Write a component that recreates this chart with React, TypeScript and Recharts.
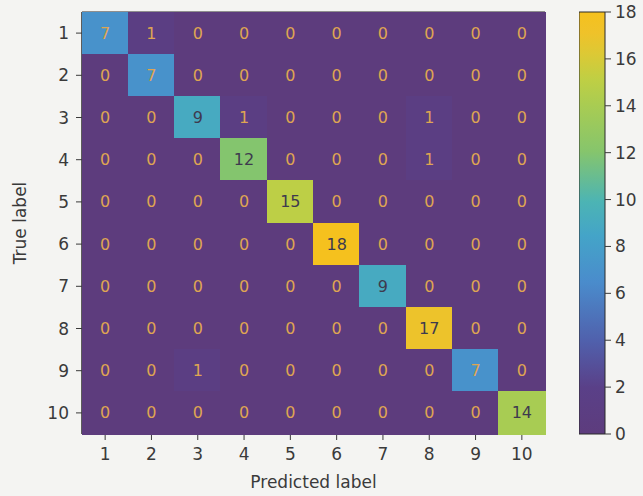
import {
  ScatterChart,
  Scatter,
  XAxis,
  YAxis,
  ReferenceArea,
  BarChart,
  Bar,
} from 'recharts';

const classLabels = [1, 2, 3, 4, 5, 6, 7, 8, 9, 10];

// rows = true label, columns = predicted label
const confusion = [
  [7, 1, 0, 0, 0, 0, 0, 0, 0, 0],
  [0, 7, 0, 0, 0, 0, 0, 0, 0, 0],
  [0, 0, 9, 1, 0, 0, 0, 1, 0, 0],
  [0, 0, 0, 12, 0, 0, 0, 1, 0, 0],
  [0, 0, 0, 0, 15, 0, 0, 0, 0, 0],
  [0, 0, 0, 0, 0, 18, 0, 0, 0, 0],
  [0, 0, 0, 0, 0, 0, 9, 0, 0, 0],
  [0, 0, 0, 0, 0, 0, 0, 17, 0, 0],
  [0, 0, 1, 0, 0, 0, 0, 0, 7, 0],
  [0, 0, 0, 0, 0, 0, 0, 0, 0, 14],
];

const colorbarTicks = [0, 2, 4, 6, 8, 10, 12, 14, 16, 18];

const W = 643;
const H = 496;
const M = { top: 12, right: 98, left: 0, bottom: 0 };
const Y_W = 82;
const X_H = 62;
const PLOT_W = W - M.left - M.right - Y_W;
const PLOT_H = H - M.top - M.bottom - X_H;
const CELL_W = PLOT_W / classLabels.length;
const CELL_H = PLOT_H / classLabels.length;
const VMAX = 18;

// muted viridis, as it looks in the photo
const stops: [number, string][] = [
  [0, '#5d3c7d'],
  [0.11, '#5a4088'],
  [0.22, '#5060ac'],
  [0.36, '#4a8ccc'],
  [0.47, '#44a4c8'],
  [0.55, '#4cb4b4'],
  [0.67, '#86c56c'],
  [0.78, '#a9cc52'],
  [0.84, '#bfcf44'],
  [0.9, '#dcc935'],
  [0.95, '#efc22a'],
  [1, '#f5c11e'],
];

function hex(c: string) {
  return [1, 3, 5].map((i) => parseInt(c.slice(i, i + 2), 16));
}

function cellColor(v: number) {
  const t = v / VMAX;
  for (let i = 1; i < stops.length; i++) {
    if (t <= stops[i][0]) {
      const [t0, c0] = stops[i - 1];
      const [t1, c1] = stops[i];
      const f = (t - t0) / (t1 - t0);
      const a = hex(c0);
      const b = hex(c1);
      const rgb = a.map((x, k) => Math.round(x + (b[k] - x) * f));
      return `rgb(${rgb.join(',')})`;
    }
  }
  return stops[stops.length - 1][1];
}

const cells = confusion.flatMap((row, r) =>
  row.map((v, c) => ({ col: classLabels[c], row: classLabels[r], v }))
);

const FONT = '"DejaVu Sans", sans-serif';
const TXT = '#3a3a3a';

const CellShape = (props: any) => {
  const { cx, cy, payload } = props;
  const v = payload.v;
  return (
    <g>
      <rect
        x={cx - CELL_W / 2 - 0.5}
        y={cy - CELL_H / 2 - 0.5}
        width={CELL_W + 1}
        height={CELL_H + 1}
        fill={cellColor(v)}
        shapeRendering="crispEdges"
      />
      <text
        x={cx}
        y={cy}
        textAnchor="middle"
        dominantBaseline="central"
        fontSize={16}
        fontFamily={FONT}
        fill={v < VMAX / 2 ? '#dfa552' : '#3e3a4e'}
      >
        {v}
      </text>
    </g>
  );
};

export default function App() {
  return (
    <div style={{ position: 'absolute', left: 0, top: 0, width: W, height: H, background: '#f4f4f2' }}>
      <ScatterChart width={W} height={H} margin={M}>
        <XAxis
          type="number"
          dataKey="col"
          domain={[0.5, 10.5]}
          ticks={classLabels}
          height={X_H}
          tickSize={6}
          tickMargin={8}
          tickLine={{ stroke: TXT }}
          axisLine={{ stroke: '#2a2a2a' }}
          tick={{ fontSize: 17, fill: TXT, fontFamily: FONT }}
          label={{ value: 'Predicted label', position: 'insideBottom', offset: 8, fontSize: 17, fill: TXT, fontFamily: FONT }}
        />
        <YAxis
          type="number"
          dataKey="row"
          domain={[0.5, 10.5]}
          reversed
          ticks={classLabels}
          width={Y_W}
          tickSize={6}
          tickMargin={7}
          tickLine={{ stroke: TXT }}
          axisLine={{ stroke: '#2a2a2a' }}
          tick={{ fontSize: 17, fill: TXT, fontFamily: FONT }}
          label={{ value: 'True label', angle: -90, position: 'insideLeft', offset: 20, fontSize: 17, fill: TXT, fontFamily: FONT, style: { textAnchor: 'middle' } }}
        />
        <Scatter data={cells} shape={<CellShape />} isAnimationActive={false} />
        <ReferenceArea x1={0.5} x2={10.5} y1={0.5} y2={10.5} fill="none" stroke="#2a2a2a" strokeWidth={1} />
      </ScatterChart>
      <div style={{ position: 'absolute', left: 579, top: 0 }}>
        <BarChart
          width={64}
          height={H}
          data={[{ name: 'cb', v: VMAX }]}
          margin={{ top: 12, right: 0, left: 0, bottom: X_H }}
          barCategoryGap={0}
        >
          <defs>
            <linearGradient id="cbGrad" x1="0" y1="1" x2="0" y2="0">
              {stops.map(([o, c]) => (
                <stop key={o} offset={`${o * 100}%`} stopColor={c} />
              ))}
            </linearGradient>
          </defs>
          <XAxis dataKey="name" hide />
          <YAxis
            orientation="right"
            domain={[0, VMAX]}
            ticks={colorbarTicks}
            width={38}
            tickSize={6}
            tickMargin={4}
            axisLine={false}
            tickLine={{ stroke: TXT }}
            tick={{ fontSize: 17, fill: TXT, fontFamily: FONT }}
            interval={0}
          />
          <Bar dataKey="v" fill="url(#cbGrad)" stroke="#2a2a2a" strokeWidth={1} isAnimationActive={false} />
        </BarChart>
      </div>
    </div>
  );
}
